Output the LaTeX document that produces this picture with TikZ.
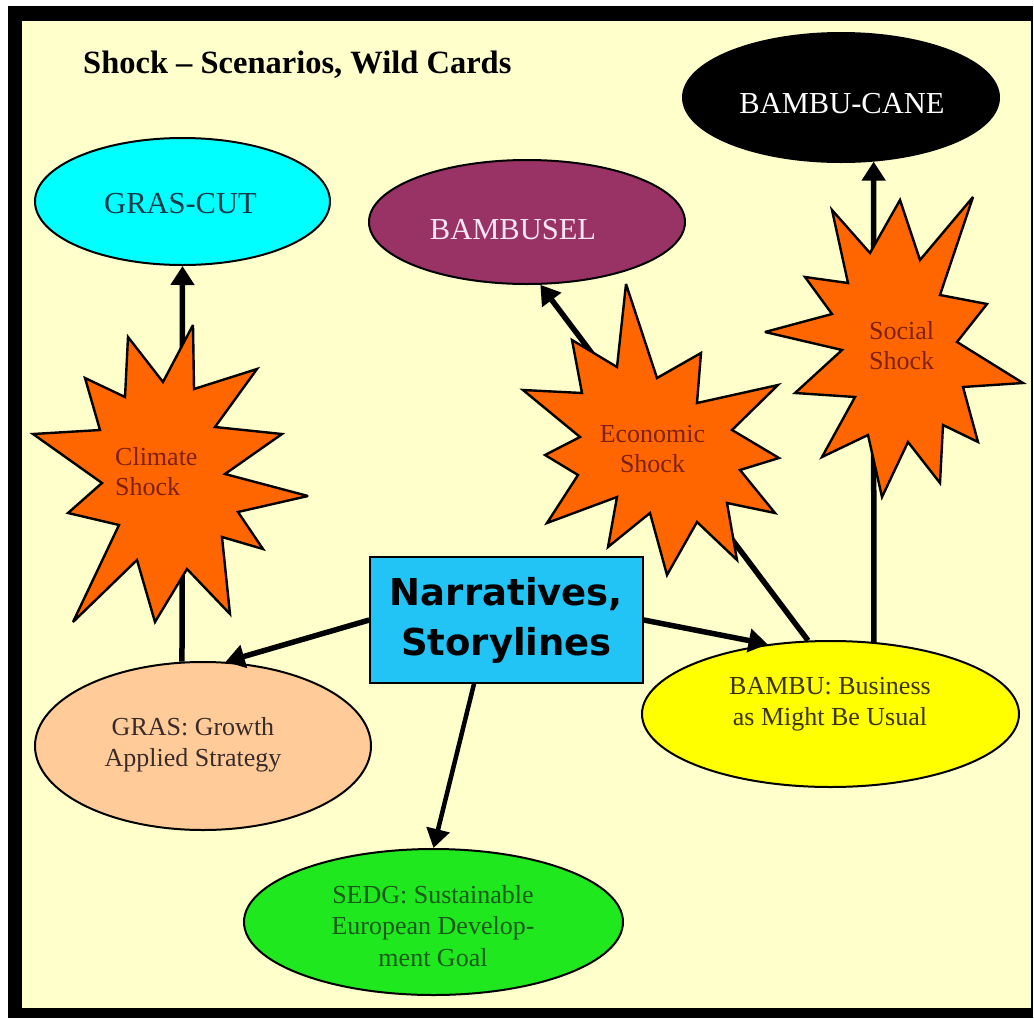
\documentclass[tikz,border=0pt]{standalone}
\usepackage{fontspec}
\setmainfont{Liberation Serif}
\newfontfamily\boxfont{DejaVu Sans}
\usetikzlibrary{arrows.meta,shapes.geometric}
\definecolor{cream}{HTML}{FFFFCC}
\definecolor{cyanfill}{HTML}{00FFFF}
\definecolor{plum}{HTML}{993366}
\definecolor{shockorange}{HTML}{FF6600}
\definecolor{peach}{HTML}{FFCC99}
\definecolor{sedggreen}{HTML}{1FE81F}
\definecolor{bambuyellow}{HTML}{FFFF00}
\definecolor{boxblue}{HTML}{22C4F6}
\definecolor{shocktext}{HTML}{7F2010}
\definecolor{grastext}{HTML}{3B2A2A}
\definecolor{sedgtext}{HTML}{1A5A1A}
\definecolor{bambutext}{HTML}{3A3500}
\definecolor{gcuttext}{HTML}{0F3B4A}
\definecolor{seltext}{HTML}{F5E6F5}
\tikzset{
  oval/.style={ellipse, draw=black, line width=2pt, inner sep=0pt},
  shockstar/.style={fill=shockorange, draw=black, line width=2.4pt, line join=miter, miter limit=4},
  conn/.style={line width=5.5pt, -{Triangle[length=19pt,width=23pt]}},
  lbl/.style={inner sep=0pt, font=\fontsize{26}{31}\selectfont, align=center},
  biglbl/.style={inner sep=0pt, font=\fontsize{30.5}{36}\selectfont},
  shocklbl/.style={inner sep=0pt, font=\fontsize{26}{30}\selectfont, text=shocktext}
}
\begin{document}
\begin{tikzpicture}[x=1pt,y=-1pt]
\useasboundingbox (0,0) rectangle (1034,1018);
\fill[white] (0,0) rectangle (1034,1018);
\fill[black] (8,6) rectangle (1033,1018);
\fill[cream] (22,21) rectangle (1031,1008);

% title
\node[anchor=base west, inner sep=0pt, font=\bfseries\fontsize{32.5}{38}\selectfont] (title) at (83,73) {Shock -- Scenarios, Wild Cards};

% ellipses
\node[oval, fill=cyanfill, minimum width=295, minimum height=127] (gcut) at (182.5,201.5) {};
\node[oval, fill=plum, minimum width=316, minimum height=124] (bsel) at (527,222) {};
\node[oval, fill=black, minimum width=316, minimum height=129] (bcane) at (841,97.5) {};
\node[oval, fill=peach, minimum width=336, minimum height=168] (gras) at (203,746) {};
\node[oval, fill=sedggreen, minimum width=379, minimum height=146] (sedg) at (433.5,922) {};
\node[oval, fill=bambuyellow, minimum width=377, minimum height=146] (bambu) at (830.5,714) {};

% central box
\node[draw=black, line width=1.5pt, fill=boxblue, minimum width=273, minimum height=126, inner sep=0pt,
      align=center, font=\boxfont\bfseries\fontsize{37}{50}\selectfont] (narr) at (506.5,620) {Narratives,\\Storylines};

% connectors
\draw[conn] (gras.104) -- (gcut.south);
\draw[conn] (bambu.107) -- (bsel.-78);
\draw[conn] (bambu.59) -- (bcane.-63);
\draw[conn] (narr.west) -- (gras.75);
\draw[conn] (narr.east) -- (bambu.132);
\draw[conn, line width=4.5pt] (narr.243) -- (sedg.north);

% shock stars
\filldraw[shockstar] (193,325) -- (194,389) -- (257,369) -- (215,427) -- (282,434) -- (225,474) -- (308,496) -- (238,512) -- (263,549) -- (222,537) -- (230,614) -- (187,569) -- (155,622) -- (137,560) -- (73,622) -- (119,525) -- (68,513) -- (102,483) -- (33,434) -- (100,430) -- (85,378) -- (125,397) -- (128,337) -- (163,382) -- cycle;
\filldraw[shockstar] (626,284) -- (657,378) -- (701,353) -- (697,403) -- (778,385) -- (732,430) -- (779,458) -- (740,470) -- (775,513) -- (727,503) -- (737,560) -- (697,522) -- (667,575) -- (650,513) -- (608,547) -- (617,497) -- (547,523) -- (578,475) -- (545,455) -- (580,437) -- (523,390) -- (582,393) -- (572,340) -- (617,367) -- cycle;
\filldraw[shockstar] (832,210) -- (870,253) -- (900,200) -- (920,260) -- (973,197) -- (940,295) -- (987,304) -- (957,342) -- (1023,383) -- (963,387) -- (978,442) -- (943,425) -- (940,483) -- (908,442) -- (882,497) -- (868,435) -- (822,457) -- (855,397) -- (795,393) -- (842,350) -- (765,332) -- (832,314) -- (805,277) -- (848,283) -- cycle;

% labels
\node[shocklbl, anchor=west, align=left] (tclimate) at (115,472) {Climate\\Shock};
\node[shocklbl, align=center] (tecon) at (652.5,449.5) {Economic\\Shock};
\node[shocklbl, anchor=west, align=left] (tsocial) at (869,346) {Social\\Shock};

\node[biglbl, anchor=base, text=gcuttext] (lgcut) at (180.5,213) {GRAS-CUT};
\node[biglbl, anchor=base, text=seltext] (lsel) at (513,239) {BAMBUSEL};
\node[biglbl, anchor=base, text=white] (lcane) at (842,113) {BAMBU-CANE};

\node[lbl, text=grastext] (lgras) at (193,745) {GRAS: Growth\\Applied Strategy};
\node[lbl, text=sedgtext, font=\fontsize{26}{31.5}\selectfont] (lsedg) at (433,926) {SEDG: Sustainable\\European Develop-\\ment Goal};
\node[lbl, text=bambutext] (lbambu) at (830,704) {BAMBU: Business\\as Might Be Usual};
\end{tikzpicture}
\end{document}
